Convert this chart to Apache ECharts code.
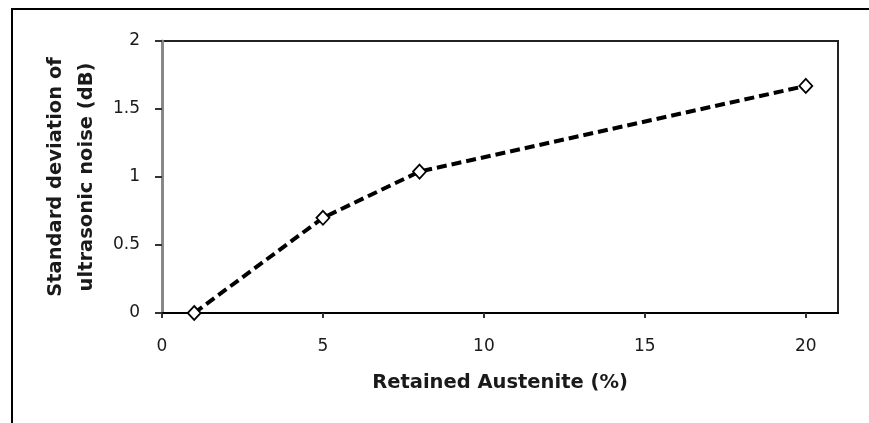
<!DOCTYPE html>
<html>
<head>
<meta charset="utf-8">
<script src="https://cdn.jsdelivr.net/npm/echarts@6/dist/echarts.min.js"></script>
<style>
html,body{margin:0;padding:0;background:#fff;}
#c{width:869px;height:423px;}
</style>
</head>
<body>
<div id="c"></div>
<script>
var austenite = [1, 5, 8, 20];
var noiseStd = [0, 0.70, 1.04, 1.67];
var xTicks = [0, 5, 10, 15, 20];
var yTicks = [0, 0.5, 1, 1.5, 2];

var chart = echarts.init(document.getElementById('c'), null, {renderer: 'canvas'});
var pts = austenite.map(function (x, i) { return [x, noiseStd[i]]; });
var fontFam = 'DejaVu Sans, sans-serif';

chart.setOption({
  animation: false,
  backgroundColor: '#fff',
  graphic: [{
    type: 'rect',
    shape: {x: 12, y: 9, width: 900, height: 500},
    style: {fill: 'none', stroke: '#000', lineWidth: 2},
    silent: true
  }],
  grid: {
    left: 162, top: 41, right: 31, bottom: 110,
    show: true, borderColor: '#222', borderWidth: 2, backgroundColor: 'transparent'
  },
  xAxis: {
    type: 'value', min: 0, max: 21, interval: 5,
    name: 'Retained Austenite (%)',
    nameLocation: 'middle', nameGap: 60,
    nameTextStyle: {fontFamily: fontFam, fontSize: 19.5, fontWeight: 'bold', color: '#1a1a1a'},
    axisLine: {show: true, lineStyle: {color: '#000', width: 2}},
    axisTick: {show: true, inside: false, length: 5, lineStyle: {color: '#333', width: 2},
      customValues: xTicks},
    axisLabel: {margin: 25, fontFamily: fontFam, fontSize: 17, color: '#1a1a1a',
      customValues: xTicks},
    splitLine: {show: false}
  },
  yAxis: {
    type: 'value', min: 0, max: 2, interval: 0.5,
    name: 'Standard deviation of\nultrasonic noise (dB)',
    nameLocation: 'middle', nameGap: 58, nameRotate: 90,
    nameTextStyle: {fontFamily: fontFam, fontSize: 19.5, fontWeight: 'bold', color: '#1a1a1a', lineHeight: 31},
    axisLine: {show: true, lineStyle: {color: '#888', width: 3}},
    axisTick: {show: true, inside: false, length: 7, lineStyle: {color: '#333', width: 2}},
    axisLabel: {margin: 22, fontFamily: fontFam, fontSize: 17, color: '#1a1a1a',
      formatter: function (v) { return yTicks.indexOf(v) >= 0 ? String(v) : ''; }},
    splitLine: {show: false}
  },
  series: [{
    type: 'line',
    data: pts,
    symbol: 'diamond',
    symbolSize: [13, 14],
    itemStyle: {color: '#fff', borderColor: '#000', borderWidth: 1.8},
    lineStyle: {color: '#000', width: 4, type: [10, 5]},
    z: 3
  }]
});
</script>
</body>
</html>
